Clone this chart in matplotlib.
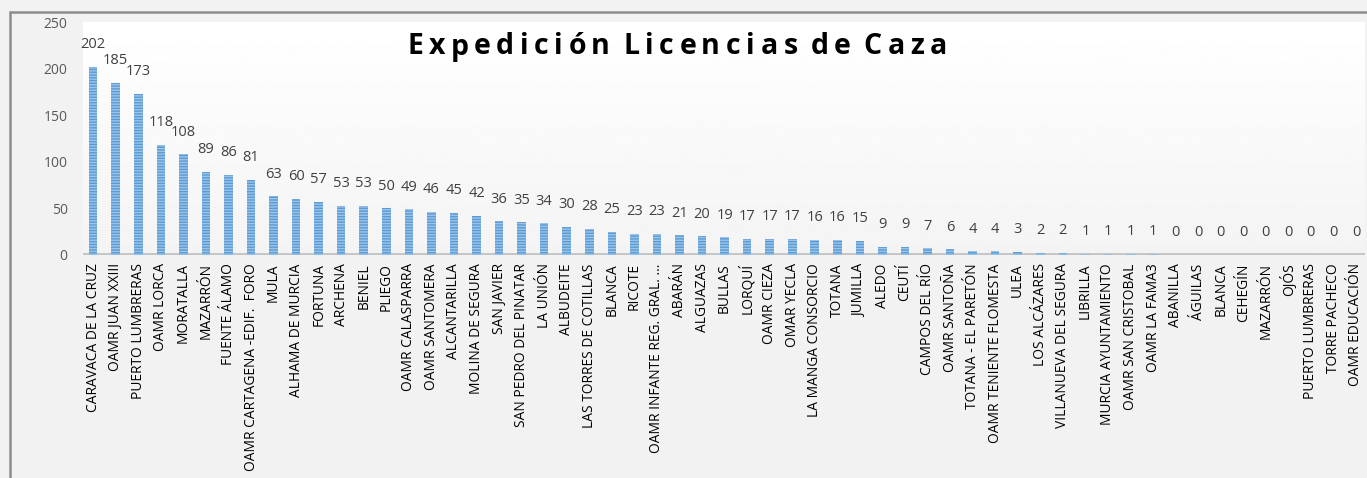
import numpy as np
import matplotlib
matplotlib.use("Agg")
import matplotlib.pyplot as plt
from matplotlib.patches import Rectangle

# datos: oficinas y licencias expedidas
oficinas = [
    "CARAVACA DE LA CRUZ", "OAMR JUAN XXIII", "PUERTO LUMBRERAS", "OAMR LORCA",
    "MORATALLA", "MAZARRÓN", "FUENTE ÁLAMO", "OAMR CARTAGENA -EDIF.  FORO",
    "MULA", "ALHAMA DE MURCIA", "FORTUNA", "ARCHENA", "BENIEL", "PLIEGO",
    "OAMR CALASPARRA", "OAMR SANTOMERA", "ALCANTARILLA", "MOLINA DE SEGURA",
    "SAN JAVIER", "SAN PEDRO DEL PINATAR", "LA UNIÓN", "ALBUDEITE",
    "LAS TORRES DE COTILLAS", "BLANCA", "RICOTE", "OAMR INFANTE REG. GRAL. ...",
    "ABARÁN", "ALGUAZAS", "BULLAS", "LORQUÍ", "OAMR CIEZA", "OMAR YECLA",
    "LA MANGA CONSORCIO", "TOTANA", "JUMILLA", "ALEDO", "CEUTÍ",
    "CAMPOS DEL RÍO", "OAMR SANTOÑA", "TOTANA - EL PARETÓN",
    "OAMR TENIENTE FLOMESTA", "ULEA", "LOS ALCÁZARES", "VILLANUEVA DEL SEGURA",
    "LIBRILLA", "MURCIA AYUNTAMIENTO", "OAMR SAN CRISTOBAL", "OAMR LA FAMA3",
    "ABANILLA", "ÁGUILAS", "BLANCA", "CEHEGÍN", "MAZARRÓN", "OJÓS",
    "PUERTO LUMBRERAS", "TORRE PACHECO", "OAMR EDUCACIÓN",
]
licencias = [
    202, 185, 173, 118, 108, 89, 86, 81, 63, 60, 57, 53, 53, 50, 49, 46, 45, 42,
    36, 35, 34, 30, 28, 25, 23, 23, 21, 20, 19, 17, 17, 17, 16, 16, 15, 9, 9,
    7, 6, 4, 4, 3, 2, 2, 1, 1, 1, 1, 0, 0, 0, 0, 0, 0, 0, 0, 0,
]
ticks_y = [0, 50, 100, 150, 200, 250]
titulo = "Expedición Licencias de Caza"

plt.rcParams['font.family'] = ['Open Sans', 'DejaVu Sans']
plt.rcParams['hatch.linewidth'] = 1.0


def titulo_espaciado(fig, texto, xc, yc, ancho_total, **kw):
    """Coloca el titulo letra a letra para imitar el espaciado de Excel."""
    r = fig.canvas.get_renderer()

    def ancho(s):
        t = fig.text(0, 0, s + "x", **kw)
        w = t.get_window_extent(r).width
        t.remove()
        return w

    base = ancho("")
    pref = [ancho(texto[:i]) - base for i in range(len(texto) + 1)]
    # los espacios no reciben espaciado extra
    saltos = [0]
    for i in range(1, len(texto)):
        saltos.append(saltos[-1] + (0 if texto[i] == " " else 1))
    extra = (ancho_total - pref[-1]) / saltos[-1]
    x0 = xc - ancho_total / 2
    W, H = fig.bbox.width, fig.bbox.height
    for i, ch in enumerate(texto):
        if ch == " ":
            continue
        fig.text((x0 + pref[i] + saltos[i] * extra) / W, yc / H, ch,
                 ha='left', va='center', **kw)


fig = plt.figure(figsize=(13.67, 4.78), dpi=100, facecolor='#f2f2f2')
ax = fig.add_axes([83 / 1367, 1 - 255 / 478, (1365 - 83) / 1367, (255 - 22) / 478])

# fondo degradado del panel trasero
grad = np.linspace(1.0, 0.955, 256).reshape(-1, 1)
ax.imshow(grad, extent=[0, 1, 0, 1], transform=ax.transAxes, cmap='gray',
          vmin=0, vmax=1, aspect='auto', zorder=0)

x = np.arange(len(oficinas))
ax.bar(x, licencias, width=0.38, color='#5b9bd5', edgecolor='#9cc3e8',
       linewidth=0, hatch='------', zorder=3)
ax.axhline(0, color='#c4c4c4', linewidth=3.5, zorder=2)

for xi, v in zip(x, licencias):
    ax.annotate(str(v), (xi, v), xytext=(0, 16), textcoords='offset points',
                ha='center', va='center', fontsize=10.5, color='#404040', zorder=4)

ax.set_xlim(-0.45, len(oficinas) - 0.6)
ax.set_ylim(0, 250)
ax.set_yticks(ticks_y)
ax.set_yticklabels([str(t) for t in ticks_y], fontsize=10, color='#595959')
ax.set_xticks(x)
ax.set_xticklabels(oficinas, rotation=90, fontsize=9.9, color='#000000')
ax.tick_params(axis='both', length=0)
ax.tick_params(axis='y', pad=11)
ax.tick_params(axis='x', pad=6)
for s in ax.spines.values():
    s.set_visible(False)

# titulo con espaciado entre letras (centro ~x=677 px, y=47 px desde arriba)
titulo_espaciado(fig, titulo, 677, 478 - 47, 540,
                 fontsize=20.5, fontweight='bold', color='#000000')

# marco exterior
fig.patches.append(Rectangle((10 / 1367, -0.1), 1.2, 1 - 12 / 478 + 0.1,
                             transform=fig.transFigure, fill=False,
                             edgecolor='#8c8c8c', linewidth=1.8))

fig.savefig("out.png", dpi=100, facecolor=fig.get_facecolor())
